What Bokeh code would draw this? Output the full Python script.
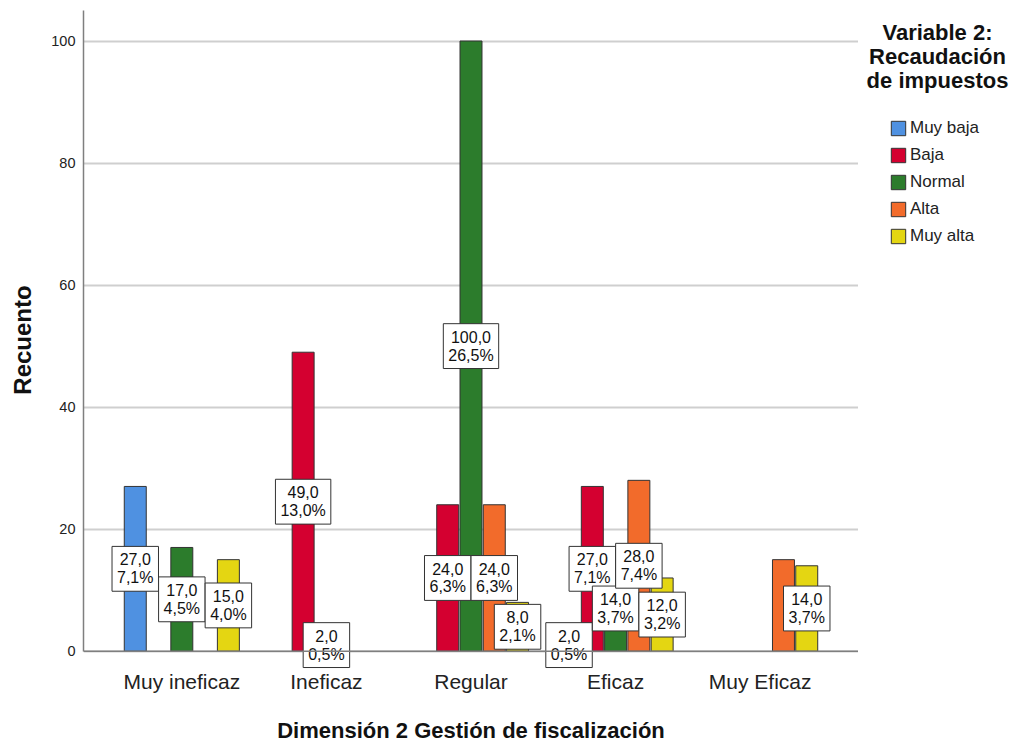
from bokeh.plotting import figure
from bokeh.layouts import row
from bokeh.models import (ColumnDataSource, FactorRange, Range1d, FixedTicker,
                          Legend, LegendItem, Text, Span)
from bokeh.transform import dodge
from bokeh.core.properties import value
from bokeh.embed import file_html
from bokeh.resources import INLINE

# ---------------- data ----------------
categories = ["Muy ineficaz", "Ineficaz", "Regular", "Eficaz", "Muy Eficaz"]
series_names = ["Muy baja", "Baja", "Normal", "Alta", "Muy alta"]
muy_baja = [27, 0, 0, 2, 0]
baja = [0, 49, 24, 27, 0]
normal = [17, 2, 100, 14, 0]
alta = [0, 0, 24, 28, 15]
muy_alta = [15, 0, 8, 12, 14]
# which bar carries a value label (the reference hides one)
label_shown = [
    [True, True, True, True, True],
    [True, True, True, True, True],
    [True, True, True, True, True],
    [True, True, True, True, False],
    [True, True, True, True, True],
]
y_ticks = [0, 20, 40, 60, 80, 100]
x_title = "Dimensión 2 Gestión de fiscalización"
y_title = "Recuento"
legend_title = "Variable 2:\nRecaudación\nde impuestos"

series_values = [muy_baja, baja, normal, alta, muy_alta]
colors = ["#4F91E1", "#D40030", "#2C7C2C", "#F26B2B", "#E4D612"]
total = sum(sum(s) for s in series_values)

FONT = "Liberation Sans"
H = 745
TOP = 10       # frame top border
BOTTOM = 70    # frame bottom border

def fmt(v):
    return f"{v:.1f}".replace(".", ",")

p = figure(x_range=FactorRange(factors=categories, range_padding=0.18,
                               range_padding_units="absolute"),
           y_range=Range1d(-3, 105),
           width=858, height=H, output_backend="svg", toolbar_location=None,
           min_border_left=83, min_border_top=TOP, min_border_right=0,
           min_border_bottom=BOTTOM)
p.outline_line_color = None
p.background_fill_color = "white"

step = 0.161
bar_w = 0.152
for i, (name, vals, col) in enumerate(zip(series_names, series_values, colors)):
    off = (i - 2) * step
    idx = [k for k, v in enumerate(vals) if v > 0]
    src = ColumnDataSource(dict(
        cat=[categories[k] for k in idx],
        val=[vals[k] for k in idx],
    ))
    p.vbar(x=dodge("cat", off, range=p.x_range), top="val", bottom=0, width=bar_w,
           source=src, fill_color=col, line_color="#333333", line_width=1)

# x axis line at zero
p.add_layout(Span(location=0, dimension="width", line_color="#7f7f7f", line_width=1.5))

# value labels drawn after all bars
box_kw = {}
tprops = Text.properties()
if "background_fill_color" in tprops:
    box_kw.update(background_fill_color="white", border_line_color="#333333",
                  border_line_width=1)
if "padding" in tprops:
    box_kw["padding"] = 5
for i, vals in enumerate(series_values):
    off = (i - 2) * step
    idx = [k for k, v in enumerate(vals) if v > 0 and label_shown[i][k]]
    lsrc = ColumnDataSource(dict(
        cat=[categories[k] for k in idx],
        mid=[vals[k] / 2 for k in idx],
        txt=[fmt(vals[k]) + "\n" + fmt(vals[k] / total * 100) + "%" for k in idx],
    ))
    p.text(x=dodge("cat", off, range=p.x_range), y="mid", text="txt", source=lsrc,
           text_align="center", text_baseline="middle",
           text_font=value(FONT), text_font_size="16px", text_color="#111111",
           text_line_height=1.05, **box_kw)

# axes
p.yaxis.ticker = FixedTicker(ticks=y_ticks)
p.yaxis.bounds = (0, 105)
p.yaxis.axis_label = y_title
p.yaxis.axis_label_text_font = FONT
p.yaxis.axis_label_text_font_style = "bold"
p.yaxis.axis_label_text_font_size = "24px"
p.yaxis.axis_label_text_color = "#111111"
p.yaxis.axis_label_standoff = 12
p.yaxis.major_label_text_font = FONT
p.yaxis.major_label_text_font_size = "14.5px"
p.yaxis.major_label_text_color = "#222222"
p.yaxis.major_label_standoff = 8
p.yaxis.major_tick_out = 0
p.yaxis.major_tick_in = 0
p.yaxis.minor_tick_out = 0
p.yaxis.minor_tick_in = 0
p.yaxis.axis_line_color = "#7f7f7f"
p.yaxis.axis_line_width = 1.5

p.xaxis.axis_label = x_title
p.xaxis.axis_label_text_font = FONT
p.xaxis.axis_label_text_font_style = "bold"
p.xaxis.axis_label_text_font_size = "22px"
p.xaxis.axis_label_text_color = "#111111"
p.xaxis.axis_label_standoff = 22
p.xaxis.major_label_text_font = FONT
p.xaxis.major_label_text_font_size = "21px"
p.xaxis.major_label_text_color = "#222222"
p.xaxis.major_label_standoff = 0
p.xaxis.major_tick_out = 0
p.xaxis.major_tick_in = 0
p.xaxis.axis_line_color = None

p.xgrid.grid_line_color = None
p.ygrid.grid_line_color = "#cfcfcf"
p.ygrid.grid_line_width = 2

# ---------------- legend panel ----------------
LW = 158
lg = figure(width=LW, height=H, x_range=Range1d(0, LW),
            y_range=Range1d(BOTTOM, H - TOP),
            output_backend="svg", toolbar_location=None,
            min_border_left=0, min_border_right=0,
            min_border_top=TOP, min_border_bottom=BOTTOM,
            x_axis_type=None, y_axis_type=None)
lg.outline_line_color = None
lg.grid.visible = False
items = []
for name, col in zip(series_names, colors):
    r = lg.vbar(x=[float("nan")], top=[float("nan")], width=1, fill_color=col,
                line_color="#333333", line_width=1)
    items.append(LegendItem(label=name, renderers=[r]))
lg.text(x=[79], y=[H - 20], text=[legend_title], text_align="center", text_baseline="top",
        text_font=value(FONT), text_font_style="bold", text_font_size="22px",
        text_color="#111111", text_line_height=0.96)
legend = Legend(items=items, location=(31, (H - BOTTOM) - 252),
                glyph_width=18, glyph_height=18, label_height=18, spacing=7,
                label_standoff=3, padding=0, margin=0,
                label_text_font=FONT, label_text_font_size="17px",
                label_text_color="#222222",
                border_line_color=None, background_fill_alpha=0)
lg.add_layout(legend)

layout = row(p, lg)
open("out.html", "w").write(file_html(layout, INLINE))
